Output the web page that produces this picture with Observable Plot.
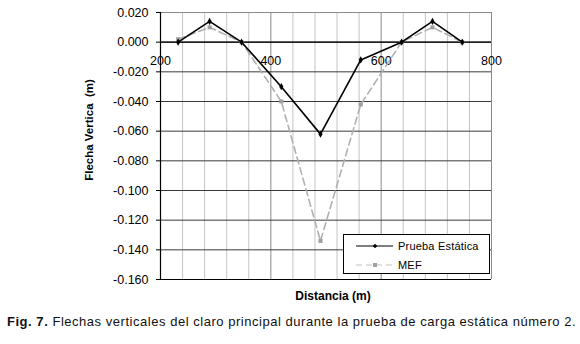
<!DOCTYPE html>
<html>
<head>
<meta charset="utf-8">
<script src="https://cdn.jsdelivr.net/npm/d3@7"></script>
<script src="https://cdn.jsdelivr.net/npm/@observablehq/plot@0.6"></script>
<style>
  body { margin: 0; background: #fff; font-family: "Liberation Sans", Arial, sans-serif; }
  #wrap { position: relative; width: 580px; height: 344px; }
  #legend { position: absolute; left: 343px; top: 234px; width: 145px; height: 38px; border: 1px solid #000; background: #fff; font-size: 11px; letter-spacing: 0.2px; }
  #legend .row { position: absolute; left: 0; height: 14px; display: flex; align-items: center; }
  #legend svg { display: block; }
  #caption { position: absolute; left: 7px; top: 314px; font-size: 13px; white-space: nowrap; color: #111; letter-spacing: 0.53px; }
</style>
</head>
<body>
<div id="wrap">
  <div id="chart"></div>
  <div id="legend"></div>
  <div id="caption"></div>
</div>
<script>
// Data
const distancia = [232, 289, 347, 419, 490, 563, 637, 693, 747];
const pruebaEstatica = [0.000, 0.014, 0.000, -0.030, -0.062, -0.012, 0.000, 0.014, 0.000];
const mef = [0.002, 0.010, 0.000, -0.040, -0.134, -0.042, 0.000, 0.010, 0.000];
const seriesNames = ["Prueba Estática", "MEF"];
const yTicks = [0.02, 0.0, -0.02, -0.04, -0.06, -0.08, -0.10, -0.12, -0.14, -0.16];
const xTicks = [200, 400, 600, 800];
const xMinorGrid = [240, 280, 320, 360, 440, 480, 520, 560, 640, 680, 720, 760];
const yTitle = "Flecha Vertica  (m)";
const xTitle = "Distancia (m)";
const captionBold = "Fig. 7.";
const captionText = " Flechas verticales del claro principal durante la prueba de carga estática número 2.";

const dataP = distancia.map((d, i) => ({x: d, y: pruebaEstatica[i]}));
const dataM = distancia.map((d, i) => ({x: d, y: mef[i]}));

const chart = Plot.plot({
  width: 580,
  height: 310,
  marginLeft: 160,
  marginRight: 89,
  marginTop: 12,
  marginBottom: 31,
  style: {fontFamily: "'Liberation Sans', Arial, sans-serif", fontSize: "12px", color: "#000", background: "#fff"},
  x: {domain: [200, 800], axis: null},
  y: {domain: [-0.16, 0.02], axis: null},
  marks: [
    Plot.ruleX(xMinorGrid, {stroke: "#c4c4c4", strokeWidth: 1}),
    Plot.ruleX([400, 600], {stroke: "#8a8a8a", strokeWidth: 1}),
    Plot.ruleY(yTicks, {stroke: "#3a3a3a", strokeWidth: 1}),
    Plot.ruleX([800], {stroke: "#8a8a8a", strokeWidth: 1}),
    Plot.ruleY([0.02], {stroke: "#8a8a8a", strokeWidth: 1}),
    Plot.ruleY([0], {stroke: "#000", strokeWidth: 1.2}),
    Plot.ruleY([-0.16], {stroke: "#000", strokeWidth: 1.2}),
    Plot.ruleX([200], {stroke: "#000", strokeWidth: 1.2}),
    Plot.axisY(yTicks, {tickSize: 4, tickFormat: d => d.toFixed(3), fontSize: 12.5, tickPadding: 8, label: null, stroke: "#000", letterSpacing: "0.6px"}),
    Plot.text(xTicks, {x: d => d, y: 0, dy: 19, text: d => String(d), fontSize: 12.5, fill: "#000", letterSpacing: "0.5px"}),
    // MEF
    Plot.line(dataM, {x: "x", y: "y", stroke: "#b0b0b0", strokeWidth: 1.6, strokeDasharray: "7,4"}),
    Plot.dot(dataM, {x: "x", y: "y", symbol: "square", r: 2.3, fill: "#a0a0a0", stroke: "none"}),
    // Prueba Estática
    Plot.line(dataP, {x: "x", y: "y", stroke: "#000", strokeWidth: 1.6}),
    Plot.dot(dataP, {x: "x", y: "y", symbol: "diamond", r: 2.2, fill: "#000", stroke: "none"}),
    // titles
    Plot.text([yTitle], {frameAnchor: "left", textAnchor: "middle", dx: -71, dy: -16, rotate: -90, text: d => d, fontWeight: "bold", fontSize: 11.5}),
    Plot.text([xTitle], {frameAnchor: "bottom", dx: 7, dy: 20, text: d => d, fontWeight: "bold", fontSize: 12, letterSpacing: "0.3px"})
  ]
});
document.getElementById("chart").appendChild(chart);

// Legend
const leg = document.getElementById("legend");
const mk = (i) => {
  const row = document.createElement("div");
  row.className = "row";
  row.style.top = (i === 0 ? 4 : 23) + "px";
  const s = d3.create("svg").attr("width", 52).attr("height", 14);
  if (i === 0) {
    s.append("line").attr("x1", 12).attr("x2", 49).attr("y1", 7).attr("y2", 7).attr("stroke", "#000").attr("stroke-width", 1.2);
    s.append("path").attr("d", d3.symbol(d3.symbolDiamond2, 14)()).attr("transform", "translate(31,7)").attr("fill", "#000");
  } else {
    s.append("line").attr("x1", 12).attr("x2", 49).attr("y1", 7).attr("y2", 7).attr("stroke", "#c0c0c0").attr("stroke-width", 1.2).attr("stroke-dasharray", "6,4");
    s.append("rect").attr("x", 29).attr("y", 5).attr("width", 4).attr("height", 4).attr("fill", "#a0a0a0");
  }
  row.appendChild(s.node());
  const t = document.createElement("span");
  t.style.marginLeft = "2px";
  t.textContent = seriesNames[i];
  row.appendChild(t);
  leg.appendChild(row);
};
mk(0); mk(1);

// Caption
const cap = document.getElementById("caption");
const b = document.createElement("b");
b.textContent = captionBold;
cap.appendChild(b);
cap.appendChild(document.createTextNode(captionText));
</script>
</body>
</html>
